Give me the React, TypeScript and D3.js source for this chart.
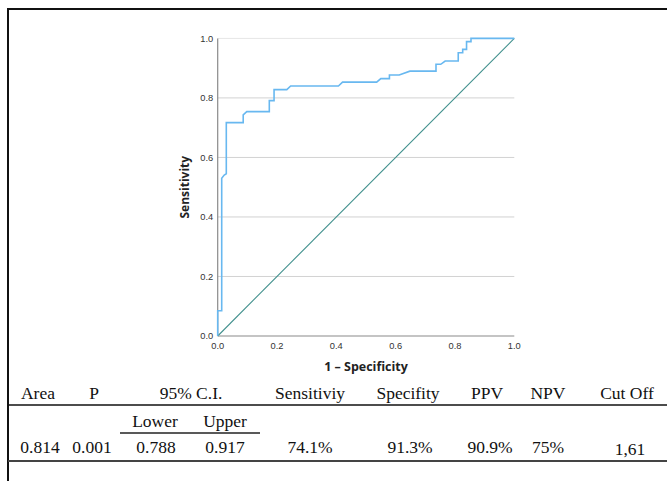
import React, { useRef, useEffect } from 'react';
import * as d3 from 'd3';

// ROC curve points (1 - specificity, sensitivity)
const fpr = [0, 0, 0.0135, 0.0135, 0.022, 0.029, 0.029, 0.086, 0.086, 0.098, 0.174, 0.174, 0.19, 0.19, 0.233, 0.246, 0.407, 0.421, 0.536, 0.55, 0.579, 0.579, 0.612, 0.648, 0.736, 0.736, 0.752, 0.767, 0.811, 0.811, 0.826, 0.826, 0.839, 0.839, 0.854, 0.854, 1];
const tpr = [0, 0.085, 0.085, 0.53, 0.541, 0.545, 0.717, 0.717, 0.743, 0.754, 0.754, 0.791, 0.791, 0.828, 0.828, 0.84, 0.84, 0.853, 0.853, 0.865, 0.865, 0.877, 0.877, 0.89, 0.89, 0.913, 0.913, 0.924, 0.924, 0.952, 0.952, 0.963, 0.963, 0.989, 0.989, 1, 1];
const ticks = [0, 0.2, 0.4, 0.6, 0.8, 1.0];

// table
const headers = ['Area', 'P', '95% C.I.', 'Sensitiviy', 'Specifity', 'PPV', 'NPV', 'Cut Off'];
const headerX = [38, 94, 191, 310, 408, 487, 548, 627];
const ciLabels = ['Lower', 'Upper'];
const ciX = [155, 225];
const values = ['0.814', '0.001', '0.788', '0.917', '74.1%', '91.3%', '90.9%', '75%', '1,61'];
const valueX = [40, 92, 156, 225, 310, 410, 490, 548, 630];

const App = () => {
  const ref = useRef(null);

  useEffect(() => {
    const svg = d3.select(ref.current);
    svg.selectAll('*').remove();

    const x = d3.scaleLinear().domain([0, 1]).range([217.7, 514.3]);
    const y = d3.scaleLinear().domain([0, 1]).range([336, 38.4]);

    // frame
    svg.append('line').attr('x1', 8).attr('x2', 667).attr('y1', 9).attr('y2', 9)
      .attr('stroke', '#111').attr('stroke-width', 2);
    svg.append('line').attr('x1', 8).attr('x2', 8).attr('y1', 8).attr('y2', 481)
      .attr('stroke', '#111').attr('stroke-width', 2);

    // grid
    svg.append('g').selectAll('line')
      .data(ticks.slice(1))
      .enter().append('line')
      .attr('x1', x(0)).attr('x2', x(1))
      .attr('y1', d => y(d)).attr('y2', d => y(d))
      .attr('stroke', d => d === 1 ? '#e6e6e6' : '#d2d2d2')
      .attr('stroke-width', 1);

    // axes lines
    svg.append('line').attr('x1', x(0)).attr('x2', x(0)).attr('y1', y(1)).attr('y2', y(0))
      .attr('stroke', '#8a8a8a').attr('stroke-width', 1.2);
    svg.append('line').attr('x1', x(0)).attr('x2', x(1)).attr('y1', y(0)).attr('y2', y(0))
      .attr('stroke', '#8a8a8a').attr('stroke-width', 1.2);

    const fmt = d3.format('.1f');
    svg.append('g').selectAll('text')
      .data(ticks)
      .enter().append('text')
      .attr('x', x(0) - 4.5)
      .attr('y', d => y(d) + 3.3)
      .attr('text-anchor', 'end')
      .style('font-family', 'Liberation Sans, Arial, sans-serif')
      .style('font-size', '9.3px')
      .style('fill', '#333')
      .text(d => fmt(d));
    svg.append('g').selectAll('text')
      .data(ticks)
      .enter().append('text')
      .attr('x', d => x(d))
      .attr('y', y(0) + 13)
      .attr('text-anchor', 'middle')
      .style('font-family', 'Liberation Sans, Arial, sans-serif')
      .style('font-size', '9.3px')
      .style('fill', '#333')
      .text(d => fmt(d));

    // axis titles
    svg.append('text')
      .attr('transform', `translate(189,${(y(0) + y(1)) / 2}) rotate(-90)`)
      .attr('text-anchor', 'middle')
      .style('font-family', 'Open Sans, sans-serif')
      .style('font-weight', 'bold')
      .style('font-size', '12px')
      .style('fill', '#222')
      .text('Sensitivity');
    svg.append('text')
      .attr('x', (x(0) + x(1)) / 2)
      .attr('y', 371)
      .attr('text-anchor', 'middle')
      .style('font-family', 'Open Sans, sans-serif')
      .style('font-weight', 'bold')
      .style('font-size', '12.5px')
      .style('fill', '#222')
      .text('1 – Specificity');

    // reference diagonal
    svg.append('line').attr('x1', x(0)).attr('y1', y(0)).attr('x2', x(1)).attr('y2', y(1))
      .attr('stroke', '#3f8f8c').attr('stroke-width', 1.1);

    // ROC curve
    const line = d3.line<number>()
      .x((d, i) => x(fpr[i]))
      .y((d, i) => y(tpr[i]));
    svg.append('path')
      .datum(fpr)
      .attr('d', line)
      .attr('fill', 'none')
      .attr('stroke', '#68b8f0')
      .attr('stroke-width', 1.6);

    // table
    const serif = 'Liberation Serif, Times New Roman, serif';
    svg.append('g').selectAll('text')
      .data(headers)
      .enter().append('text')
      .attr('x', (d, i) => headerX[i])
      .attr('y', 399)
      .attr('text-anchor', 'middle')
      .style('font-family', serif)
      .style('font-size', '17.5px')
      .style('fill', '#111')
      .text(d => d);
    svg.append('line').attr('x1', 8).attr('x2', 667).attr('y1', 405).attr('y2', 405)
      .attr('stroke', '#111').attr('stroke-width', 1.6);

    svg.append('g').selectAll('text')
      .data(ciLabels)
      .enter().append('text')
      .attr('x', (d, i) => ciX[i])
      .attr('y', 427)
      .attr('text-anchor', 'middle')
      .style('font-family', serif)
      .style('font-size', '17.5px')
      .style('fill', '#111')
      .text(d => d);
    svg.append('line').attr('x1', 120).attr('x2', 260).attr('y1', 433).attr('y2', 433)
      .attr('stroke', '#222').attr('stroke-width', 1.4);

    svg.append('g').selectAll('text')
      .data(values)
      .enter().append('text')
      .attr('x', (d, i) => valueX[i])
      .attr('y', (d, i) => i === values.length - 1 ? 455 : 453)
      .attr('text-anchor', 'middle')
      .style('font-family', serif)
      .style('font-size', '17.5px')
      .style('fill', '#111')
      .text(d => d);
    svg.append('line').attr('x1', 8).attr('x2', 667).attr('y1', 461).attr('y2', 461)
      .attr('stroke', '#444').attr('stroke-width', 2);
  }, []);

  return (
    <svg ref={ref} width={667} height={481}
      style={{ position: 'absolute', left: 0, top: 0, background: '#fff' }} />
  );
};

export default App;
